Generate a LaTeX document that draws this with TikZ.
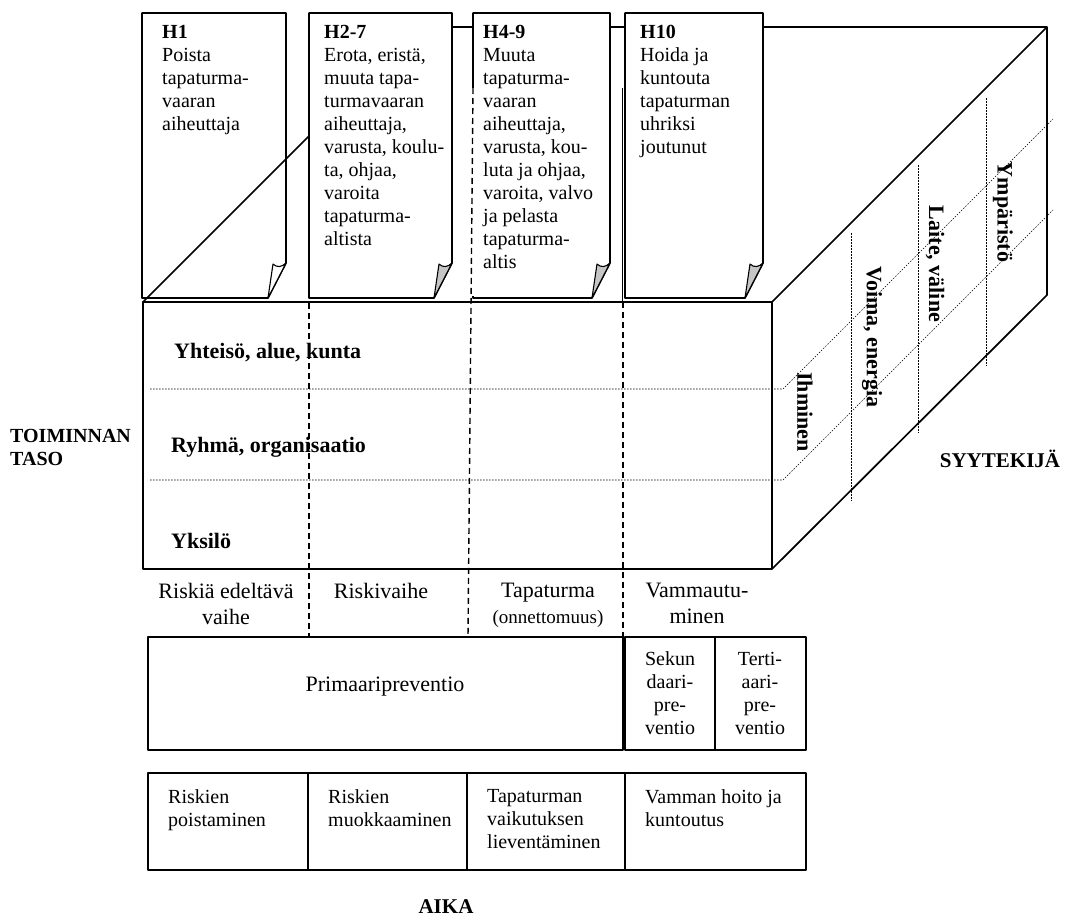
\documentclass[tikz,border=0pt]{standalone}
\usepackage{fontspec}
\setmainfont{Liberation Serif}
\usepackage{tikz}

\newcommand{\card}[3]{%
	\draw[edge, fill=white] (#1,13) -- (#2,13) -- (#2,263) -- (#2-18,298) -- (#1,298) -- cycle;
	\draw[line width=1.1pt, line join=round, fill=#3] (#2,263) -- (#2-18,298) -- (#2-13,264)
		.. controls (#2-9,268) and (#2-4,267) .. (#2,263);
}

\begin{document}
\begin{tikzpicture}[x=1pt, y=-1pt,
	edge/.style={line width=1.7pt, line join=round},
	sepline/.style={line width=1.4pt, dash pattern=on 6pt off 4pt},
	gridline/.style={line width=0.6pt, dash pattern=on 1.5pt off 1.5pt},
	body/.style={inner sep=0pt, align=left, anchor=north west, font=\fontsize{20}{23}\selectfont},
	phase/.style={inner sep=0pt, align=center, anchor=north, font=\fontsize{22}{26}\selectfont},
	level/.style={inner sep=0pt, anchor=west, font=\fontsize{22}{26}\selectfont\bfseries},
	factor/.style={inner sep=0pt, rotate=-90, font=\fontsize{22}{26}\selectfont\bfseries}]
	\useasboundingbox (0,0) rectangle (1069,921);

	\draw[edge] (418,27) -- (1047,27) -- (1047,295) -- (772,569);
	\draw[edge] (772,302) -- (1047,27);
	\draw[edge] (143,302) rectangle (772,569);

	\foreach \l/\r/\c in {142/286/white, 309/452/gray!45, 473/610/gray!45, 625/763/gray!45}
		\card{\l}{\r}{\c};
	\draw[edge] (143,302) -- (309,136);

	\draw[gridline] (150,389) -- (783,389) -- (1053,119);
	\draw[gridline] (150,480) -- (783,480) -- (1053,210);
	\foreach \x/\y in {851/233, 918/165, 986/98}
		\draw[gridline] (\x,\y) -- (\x,\y+268);

	\node[body] (h1) at (162,25) {\textbf{H1}\\Poista\\tapaturma-\\vaaran\\aiheuttaja};
	\node[body] (h27) at (324,25) {\textbf{H2-7}\\Erota, eristä,\\muuta tapa-\\turmavaaran\\aiheuttaja,\\varusta, koulu-\\ta, ohjaa,\\varoita\\tapaturma-\\altista};
	\node[body] (h49) at (483,25) {\textbf{H4-9}\\Muuta\\tapaturma-\\vaaran\\aiheuttaja,\\varusta, kou-\\luta ja ohjaa,\\varoita, valvo\\ja pelasta\\tapaturma-\\altis};
	\node[body] (h10) at (640,25) {\textbf{H10}\\Hoida ja\\kuntouta\\tapaturman\\uhriksi\\joutunut};

	\node[level] (yhteiso) at (174,353) {Yhteisö, alue, kunta};
	\node[level] (ryhma) at (171,447) {Ryhmä, organisaatio};
	\node[level] (yksilo) at (171,541) {Yksilö};
	\node[body, font=\fontsize{20}{23}\selectfont\bfseries] (taso) at (10,429) {TOIMINNAN\\TASO};

	\node[factor] (ihminen) at (805,412) {Ihminen};
	\node[factor] (voima) at (872,337) {Voima, energia};
	\node[factor] (laite) at (935,264) {Laite, väline};
	\node[factor] (ymparisto) at (1003,212) {Ympäristö};
	\node[level, anchor=center, font=\fontsize{21}{24}\selectfont\bfseries] (syy) at (1000,459) {SYYTEKIJÄ};

	\draw[white, line width=2.2pt] (473,88) -- (473,296);
	\draw[sepline] (309,303) -- (309,637);
	\draw[sepline] (473,88) -- (468,637);
	\draw[line width=1pt] (622,88) -- (622,302);
	\draw[sepline] (623,302) -- (623,637);

	\node[phase] (vaihe1) at (226,583) {Riskiä edeltävä\\vaihe};
	\node[phase] (vaihe2) at (381,583) {Riskivaihe};
	\node[phase] (vaihe3) at (548,583) {Tapaturma\\{\fontsize{19}{22}\selectfont(onnettomuus)}};
	\node[phase] (vaihe4) at (697,583) {Vammautu-\\minen};

	\draw[edge] (148,637) rectangle (623,750) (625,637) rectangle (715,750) (715,637) rectangle (806,750);
	\node[phase, anchor=center] (prim) at (385,687) {Primaaripreventio};
	\node[body, anchor=center, align=center] (sek) at (670,693) {Sekun\\daari-\\pre-\\ventio};
	\node[body, anchor=center, align=center] (ter) at (760,693) {Terti-\\aari-\\pre-\\ventio};

	\foreach \a/\b/\t [count=\i] in {148/308/{Riskien\\poistaminen}, 308/467/{Riskien\\muokkaaminen},
		467/625/{Tapaturman\\vaikutuksen\\lieventäminen}, 625/806/{Vamman hoito ja\\kuntoutus}} {
		\draw[edge] (\a,773) rectangle (\b,870);
		\node[body] (toimi\i) at (\a+20,789) {\t};
	}
	\node[level, anchor=center, font=\fontsize{21}{24}\selectfont\bfseries] (aika) at (446,907) {AIKA};
\end{tikzpicture}
\end{document}
